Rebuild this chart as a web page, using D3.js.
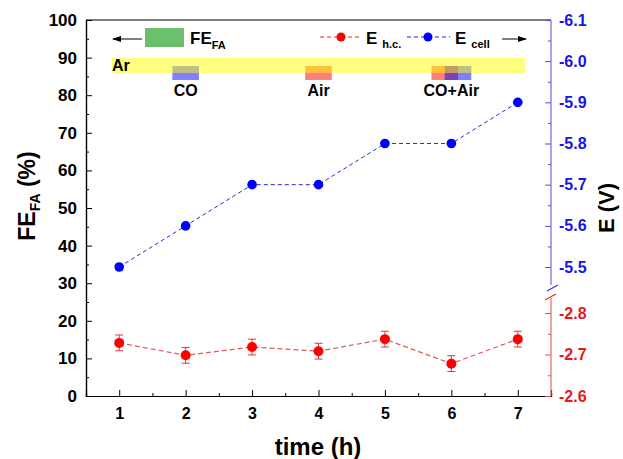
<!DOCTYPE html>
<html>
<head>
<meta charset="utf-8">
<script src="https://cdn.jsdelivr.net/npm/d3@7"></script>
<style>
  body { margin: 0; background: #fff; }
  svg text { font-family: Arial, "Liberation Sans", sans-serif; font-weight: bold; }
</style>
</head>
<body>
<svg id="chart" width="623" height="459"></svg>
<script>
// data
const hours = [1, 2, 3, 4, 5, 6, 7];
const eCell = [-5.5, -5.6, -5.7, -5.7, -5.8, -5.8, -5.9];
const eHc = [-2.728, -2.698, -2.718, -2.708, -2.737, -2.678, -2.737];
const eHcErr = [0.019, 0.019, 0.019, 0.019, 0.019, 0.019, 0.019];
const feTicks = [0, 10, 20, 30, 40, 50, 60, 70, 80, 90, 100];
const cellTicks = [-6.1, -6.0, -5.9, -5.8, -5.7, -5.6, -5.5];
const hcTicks = [-2.8, -2.7, -2.6];
const gasLabels = [
  { name: 'CO', x: 2 },
  { name: 'Air', x: 4 },
  { name: 'CO+Air', x: 6 }
];
const gasBoxes = [
  { x: 2, gas: 'CO' },
  { x: 4, gas: 'Air' },
  { x: 5.9, gas: 'Air' },
  { x: 6.1, gas: 'CO' }
];

const svg = d3.select('#chart');
const m = { left: 86, right: 551, top: 20, bottom: 396 };
// plain hyphen like the original instead of the unicode minus
const fmtV = d => d.toFixed(1);

// scales
const x = d3.scaleLinear().domain([0.5, 7.5]).range([m.left, m.right]);
const yFE = d3.scaleLinear().domain([0, 100]).range([m.bottom, m.top]);
const yCell = d3.scaleLinear().domain([-6.1, -5.5]).range([m.top, 267]);
const yHc = d3.scaleLinear().domain([-2.6, -2.8]).range([m.bottom, 313]);

// frame top line
svg.append('line')
  .attr('x1', m.left).attr('x2', m.right).attr('y1', m.top).attr('y2', m.top)
  .attr('stroke', '#000').attr('stroke-width', 1.2);

// x axis
const gx = svg.append('g').attr('transform', `translate(0,${m.bottom})`);
gx.call(d3.axisBottom(x).tickValues(d3.range(1.5, 7, 1)).tickSize(-3).tickFormat(''));
gx.call(g => g.append('g').call(d3.axisBottom(x).tickValues(hours).tickSize(-6).tickPadding(12).tickFormat(d3.format('d'))));
gx.selectAll('.domain').attr('stroke', '#000').attr('stroke-width', 1.2);
gx.selectAll('text').attr('font-size', 16).attr('fill', '#000');

// left axis
const gl = svg.append('g').attr('transform', `translate(${m.left},0)`);
gl.call(d3.axisLeft(yFE).tickValues(d3.range(5, 100, 10)).tickSize(-3).tickFormat(''));
gl.call(g => g.append('g').call(d3.axisLeft(yFE).tickValues(feTicks).tickSize(-6).tickPadding(9)));
gl.selectAll('.domain').attr('stroke', '#000').attr('stroke-width', 1.2);
gl.selectAll('text').attr('font-size', 17).attr('fill', '#000');

// right axis - cell (blue)
const gr1 = svg.append('g').attr('transform', `translate(${m.right},0)`);
gr1.call(d3.axisRight(yCell).tickValues(d3.range(-6.05, -5.5, 0.1)).tickSize(-3).tickFormat(''));
gr1.call(g => g.append('g').call(d3.axisRight(yCell).tickValues(cellTicks).tickSize(-6).tickPadding(8).tickFormat(fmtV)));
gr1.selectAll('.domain').remove();
gr1.selectAll('line').attr('stroke', '#5050d0');
gr1.selectAll('text').attr('font-size', 16).attr('fill', '#1515e8');
gr1.append('line').attr('x1', 0).attr('x2', 0).attr('y1', m.top).attr('y2', 285)
  .attr('stroke', '#6a6ad8').attr('stroke-width', 1.2);

// right axis - h.c. (red)
const gr2 = svg.append('g').attr('transform', `translate(${m.right},0)`);
gr2.call(d3.axisRight(yHc).tickValues([-2.75, -2.65]).tickSize(-3).tickFormat(''));
gr2.call(g => g.append('g').call(d3.axisRight(yHc).tickValues(hcTicks).tickSize(-6).tickPadding(8).tickFormat(fmtV)));
gr2.selectAll('.domain').remove();
gr2.selectAll('line').attr('stroke', '#e05050');
gr2.selectAll('text').attr('font-size', 16).attr('fill', '#e81818');
gr2.append('line').attr('x1', 0).attr('x2', 0).attr('y1', 298).attr('y2', m.bottom)
  .attr('stroke', '#e06a6a').attr('stroke-width', 1.2);

// break marks
svg.append('line').attr('x1', m.right - 4).attr('y1', 291).attr('x2', m.right + 7).attr('y2', 285)
  .attr('stroke', '#3a3ad8').attr('stroke-width', 1.3);
svg.append('line').attr('x1', m.right - 6).attr('y1', 300).attr('x2', m.right + 5).attr('y2', 294)
  .attr('stroke', '#e03030').attr('stroke-width', 1.3);

// gas boxes (under yellow band)
const boxW = x(2.2) - x(1.8);
svg.selectAll('.gasbox').data(gasBoxes).join('rect')
  .attr('class', 'gasbox')
  .attr('x', d => x(d.x) - boxW / 2).attr('width', boxW)
  .attr('y', 66).attr('height', 14)
  .attr('fill', d => d.gas === 'CO' ? 'rgba(0,0,255,0.5)' : 'rgba(255,0,0,0.5)');

// Ar band
svg.append('rect').attr('x', 112).attr('y', 58).attr('width', 413).attr('height', 15)
  .attr('fill', 'rgba(255,255,0,0.5)');
svg.append('text').attr('x', 112).attr('y', 71).attr('font-size', 16).text('Ar');

svg.selectAll('.gaslabel').data(gasLabels).join('text')
  .attr('class', 'gaslabel')
  .attr('x', d => x(d.x)).attr('y', 96)
  .attr('text-anchor', 'middle').attr('font-size', 16)
  .text(d => d.name);

// legend
const arrowHead = (tipX, y, dir) => {
  svg.append('path')
    .attr('d', `M${tipX},${y} L${tipX - dir * 9},${y - 3} L${tipX - dir * 9},${y + 3} Z`)
    .attr('fill', '#000');
};
svg.append('line').attr('x1', 113).attr('x2', 142).attr('y1', 39).attr('y2', 39).attr('stroke', '#000');
arrowHead(112, 39, -1);
svg.append('rect').attr('x', 145).attr('y', 28).attr('width', 39).attr('height', 19).attr('fill', '#6cc06c');
const feLeg = svg.append('text').attr('x', 190).attr('y', 44).attr('font-size', 17);
feLeg.append('tspan').text('FE');
feLeg.append('tspan').attr('font-size', 11).attr('dy', 5).text('FA');

svg.append('line').attr('x1', 320).attr('x2', 360).attr('y1', 37).attr('y2', 37)
  .attr('stroke', '#e03030').attr('stroke-dasharray', '4,3');
svg.append('circle').attr('cx', 341).attr('cy', 37).attr('r', 4.5).attr('fill', '#ff0000');
const hcLeg = svg.append('text').attr('x', 366).attr('y', 44).attr('font-size', 17);
hcLeg.append('tspan').text('E');
hcLeg.append('tspan').attr('font-size', 11).attr('dx', 5).attr('dy', 4).text('h.c.');

svg.append('line').attr('x1', 407).attr('x2', 450).attr('y1', 37).attr('y2', 37)
  .attr('stroke', '#2020d0').attr('stroke-dasharray', '4,3');
svg.append('circle').attr('cx', 428).attr('cy', 37).attr('r', 4.5).attr('fill', '#0000ff');
const cellLeg = svg.append('text').attr('x', 455).attr('y', 44).attr('font-size', 17);
cellLeg.append('tspan').text('E');
cellLeg.append('tspan').attr('font-size', 11).attr('dx', 5).attr('dy', 4).text('cell');

svg.append('line').attr('x1', 502).attr('x2', 526).attr('y1', 39).attr('y2', 39).attr('stroke', '#000');
arrowHead(527, 39, 1);

// blue series
const cellData = hours.map((h, i) => ({ h, v: eCell[i] }));
svg.append('path').datum(cellData)
  .attr('d', d3.line().x(d => x(d.h)).y(d => yCell(d.v)))
  .attr('fill', 'none').attr('stroke', '#2a2ad8').attr('stroke-width', 1)
  .attr('stroke-dasharray', '4,3');
svg.selectAll('.cellpt').data(cellData).join('circle')
  .attr('class', 'cellpt')
  .attr('cx', d => x(d.h)).attr('cy', d => yCell(d.v)).attr('r', 4.8)
  .attr('fill', '#0000ff');

// red series
const hcData = hours.map((h, i) => ({ h, v: eHc[i], e: eHcErr[i] }));
svg.append('path').datum(hcData)
  .attr('d', d3.line().x(d => x(d.h)).y(d => yHc(d.v)))
  .attr('fill', 'none').attr('stroke', '#e05858').attr('stroke-width', 1.2)
  .attr('stroke-dasharray', '5,3');
const err = svg.selectAll('.err').data(hcData).join('g').attr('class', 'err')
  .attr('stroke', '#d83a3a').attr('stroke-width', 1);
err.append('line').attr('x1', d => x(d.h)).attr('x2', d => x(d.h))
  .attr('y1', d => yHc(d.v - d.e)).attr('y2', d => yHc(d.v + d.e));
err.append('line').attr('x1', d => x(d.h) - 4).attr('x2', d => x(d.h) + 4)
  .attr('y1', d => yHc(d.v - d.e)).attr('y2', d => yHc(d.v - d.e));
err.append('line').attr('x1', d => x(d.h) - 4).attr('x2', d => x(d.h) + 4)
  .attr('y1', d => yHc(d.v + d.e)).attr('y2', d => yHc(d.v + d.e));
svg.selectAll('.hcpt').data(hcData).join('circle')
  .attr('class', 'hcpt')
  .attr('cx', d => x(d.h)).attr('cy', d => yHc(d.v)).attr('r', 5)
  .attr('fill', '#ff0000');

// axis titles
svg.append('text').attr('x', 318).attr('y', 455).attr('text-anchor', 'middle')
  .attr('font-size', 24).text('time (h)');
const ylt = svg.append('text').attr('transform', 'translate(35,196) rotate(-90)')
  .attr('text-anchor', 'middle').attr('font-size', 23);
ylt.append('tspan').text('FE');
ylt.append('tspan').attr('font-size', 14).attr('dy', 5).text('FA');
ylt.append('tspan').attr('dy', -5).text(' (%)');
svg.append('text').attr('transform', 'translate(614,208) rotate(-90)')
  .attr('text-anchor', 'middle').attr('font-size', 22).text('E (V)');
</script>
</body>
</html>
